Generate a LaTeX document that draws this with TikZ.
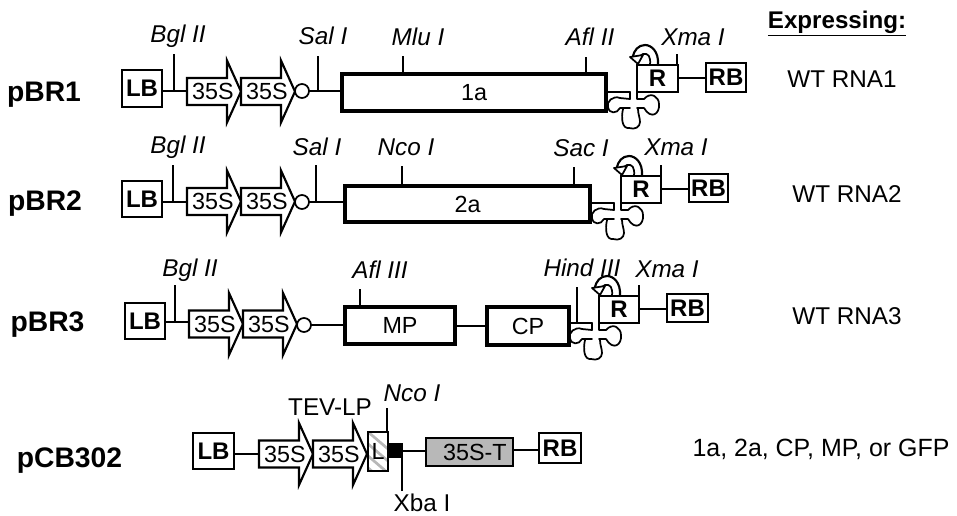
\documentclass[tikz,border=0pt]{standalone}
\usepackage{fontspec}
\setmainfont{Liberation Sans}
\tikzset{
  x=0.75pt,y=-0.75pt,
  conn/.style={line width=1.6pt,black},
  site/.style={line width=1.3pt,black},
  plain/.style={draw=black,line width=1.5pt,fill=white,inner sep=0pt,outer sep=0pt},
  gene/.style={draw=black,line width=2.6pt,fill=white,inner sep=0pt,outer sep=0pt,font=\fontsize{17.5}{17.5}\selectfont},
  boldbox/.style={plain,font=\fontsize{18}{18}\selectfont\bfseries},
  arrowbody/.style={draw=black,line width=1.6pt,fill=white,line join=miter},
  arrowtext/.style={inner sep=0pt,outer sep=0pt,font=\fontsize{17.5}{17.5}\selectfont},
  terminator/.style={circle,draw=black,line width=1.3pt,fill=white,inner sep=0pt,outer sep=0pt,minimum size=10.5pt},
  rs/.style={inner sep=0pt,font=\fontsize{18.2}{18.2}\selectfont\itshape},
  rsup/.style={inner sep=0pt,font=\fontsize{18.2}{18.2}\selectfont},
  plname/.style={inner sep=0pt,font=\fontsize{21.2}{21.2}\selectfont\bfseries},
  expr/.style={inner sep=0pt,font=\fontsize{18.2}{18.2}\selectfont},
  ribo/.style={line width=1.3pt,black,line join=round,line cap=round},
}
\newcommand{\gbox}[7]{%
  \pgfmathsetmacro{\bw}{(#5-#3)*0.75}%
  \pgfmathsetmacro{\bh}{(#6-#4)*0.75}%
  \node[#1,minimum width=\bw pt,minimum height=\bh pt] (#2) at ({(#3+#5)/2},{(#4+#6)/2}) {#7};}
\newcommand{\sarrow}[3]{%
  \draw[arrowbody] (#2,#3-13.5) -- (#2+40,#3-13.5) -- (#2+40,#3-31) -- (#2+54,#3) -- (#2+40,#3+31) -- (#2+40,#3+13.5) -- (#2,#3+13.5) -- cycle;
  \node[arrowtext,minimum width=40.5pt] (#1) at (#2+26,#3) {35S};}
\newcommand{\ribozyme}[3]{% #1 name of R box, #2,#3 = bottom-left of R box
  \begin{scope}[shift={(#2,#3)}]
    \draw[ribo] (-7,0) -- (-7,7) -- (-17,6) .. controls (-24,3) and (-31,10) .. (-29,15)
       .. controls (-28,22) and (-20,22) .. (-17,16) -- (-7,16);
    \draw[ribo] (-14,17) .. controls (-16,26) and (-15,37) .. (-8,36)
       .. controls (-2,38) and (3,35) .. (3,30) .. controls (3,26) and (1,22) .. (1,17);
    \draw[ribo] (0,0) -- (0,7) -- (7,7) .. controls (14,-1) and (22,5) .. (22,12)
       .. controls (23,22) and (14,28) .. (7,16) -- (0,16);
    % self-cleaving loop above the box
    \draw[ribo,line width=1.6pt] (21,-27) .. controls (22,-41) and (14,-47) .. (8,-47)
       .. controls (1,-47) and (-3,-41) .. (-4,-36);
    \draw[ribo] (13,-27) .. controls (14,-36) and (11,-39) .. (6,-38) -- (3,-36);
    \draw[ribo,fill=white] (-7,-35) -- (1,-28) -- (6,-37) -- cycle;
  \end{scope}}
\begin{document}
\begin{tikzpicture}
\useasboundingbox (0,0) rectangle (957,515);
\fill[white] (0,0) rectangle (957,515);

% ---------- pBR1
\coordinate (s1a) at (174,54);\coordinate (s1b) at (318,56);\coordinate (s1c) at (403,56);\coordinate (s1d) at (586,57);\coordinate (s1e) at (677,54);
\gbox{boldbox}{LB1}{122}{70}{162}{107}{LB}
\sarrow{P1a}{187}{91.5}
\sarrow{P1b}{241}{91.5}
\node[terminator] (T1) at (302,91) {};
\gbox{gene}{G1}{342}{74}{606}{111}{1a}
\gbox{boldbox}{R1}{637}{65}{678}{92}{R}
\gbox{boldbox}{RB1}{706}{63}{746}{92}{RB}
\draw[conn] (LB1.east |- T1.east) -- ([xshift=19pt]LB1.east |- T1.east);
\draw[conn] (T1.east) -- (G1.west |- T1.east);
\draw[site] (s1a) -- (s1a |- T1.east);
\draw[site] (s1b) -- (s1b |- T1.east);
\draw[site] (s1c) -- (s1c |- G1.north);
\draw[site] (s1d) -- (s1d |- G1.north);
\draw[site] (s1e) -- (s1e |- R1.north);
\draw[conn] (R1.east |- 0,78) -- (RB1.west |- 0,78);
\draw[ribo] (G1.east |- R1.south) -- ([xshift=-5.25pt]R1.south west);
\ribozyme{R1}{637}{92}

% ---------- pBR2
\coordinate (s2a) at (173,165);\coordinate (s2b) at (316,165);\coordinate (s2c) at (402,166);\coordinate (s2d) at (574,167);\coordinate (s2e) at (661,165);
\gbox{boldbox}{LB2}{122}{181}{162}{217}{LB}
\sarrow{P2a}{187}{201.5}
\sarrow{P2b}{241}{201.5}
\node[terminator] (T2) at (302,202) {};
\gbox{gene}{G2}{345}{186}{590}{222}{2a}
\gbox{boldbox}{R2}{621}{176}{661}{203}{R}
\gbox{boldbox}{RB2}{689}{174}{728}{202}{RB}
\draw[conn] (LB2.east |- T2.east) -- ([xshift=19pt]LB2.east |- T2.east);
\draw[conn] (T2.east) -- (G2.west |- T2.east);
\draw[site] (s2a) -- (s2a |- T2.east);
\draw[site] (s2b) -- (s2b |- T2.east);
\draw[site] (s2c) -- (s2c |- G2.north);
\draw[site] (s2d) -- (s2d |- G2.north);
\draw[site] (s2e) -- (s2e |- R2.north);
\draw[conn] (R2.east |- 0,189) -- (RB2.west |- 0,189);
\draw[ribo] (G2.east |- R2.south) -- ([xshift=-5.25pt]R2.south west);
\ribozyme{R2}{621}{203}

% ---------- pBR3
\coordinate (s3a) at (175,285);\coordinate (s3b) at (360,289);\coordinate (s3c) at (577,287);\coordinate (s3d) at (639,285);
\gbox{boldbox}{LB3}{125}{303}{165}{339}{LB}
\sarrow{P3a}{189}{324}
\sarrow{P3b}{243}{324}
\node[terminator] (T3) at (304,325) {};
\gbox{gene}{G3}{345}{307}{455}{344}{MP}
\gbox{gene}{G4}{487}{307}{569}{345}{CP}
\gbox{boldbox}{R3}{599}{296}{639}{323}{R}
\gbox{boldbox}{RB3}{667}{294}{708}{322}{RB}
\draw[conn] (LB3.east |- 0,322) -- ([xshift=18pt]LB3.east |- 0,322);
\draw[conn] (T3.east) -- (G3.west |- T3.east);
\draw[conn] (G3.east |- G4.west) -- (G4.west);
\draw[site] (s3a) -- (s3a |- 0,322);
\draw[site] (s3b) -- (s3b |- G3.north);
\draw[site] (s3c) -- (s3c |- R3.south);
\draw[site] (s3d) -- (s3d |- R3.north);
\draw[conn] (R3.east |- 0,309) -- (RB3.west |- 0,309);
\draw[ribo] (G4.east |- R3.south) -- ([xshift=-5.25pt]R3.south west);
\ribozyme{R3}{599}{323}

% ---------- pCB302
\coordinate (s4a) at (387,408);\coordinate (s4b) at (402,491);
\gbox{boldbox}{LB4}{193}{433}{234}{469}{LB}
\sarrow{P4a}{259}{454}
\sarrow{P4b}{313}{454}
\gbox{plain}{L4}{368}{432}{388}{471}{}
\begin{scope}
  \clip (L4.south west) rectangle (L4.north east);
  \foreach \k in {0,12,...,60} \draw[line width=2pt,black!28] (360,425+\k) -- (395,455+\k);
\end{scope}
\draw[line width=1.5pt] (L4.south west) rectangle (L4.north east);
\node[inner sep=0pt,font=\fontsize{17.5}{17.5}\selectfont] (Ltext) at (L4.center) {L};
\gbox{plain,fill=black}{B4}{388}{444}{402}{457}{}
\gbox{plain,fill=black!28,font=\fontsize{17.5}{17.5}\selectfont}{T4}{426}{438}{513}{466}{\hspace*{8pt}35S-T}
\gbox{boldbox}{RB4}{539}{433}{581}{463}{RB}
\draw[conn] (LB4.east |- P4a.west) -- (P4a.west);
\draw[conn] (B4.east |- 0,451) -- (T4.west |- 0,451);
\draw[conn] (T4.east |- 0,450) -- (RB4.west |- 0,450);
\draw[site] (s4a) -- (s4a |- L4.north);
\draw[site] (s4b) -- (s4b |- B4.south);

% ---------- site labels
\node[rs] (l1a) at (178,36) {Bgl II};
\node[rs] (l1b) at (323,36) {Sal I};
\node[rs] (l1c) at (418,37) {Mlu I};
\node[rs] (l1d) at (590,37) {Afl II};
\node[rs] (l1e) at (693,37) {Xma I};
\node[rs] (l2a) at (178,147) {Bgl II};
\node[rs] (l2b) at (317,147) {Sal I};
\node[rs] (l2c) at (406,147) {Nco I};
\node[rs] (l2d) at (581,148) {Sac I};
\node[rs] (l2e) at (676,147) {Xma I};
\node[rs] (l3a) at (190,270) {Bgl II};
\node[rs] (l3b) at (380,270) {Afl III};
\node[rs] (l3c) at (582,268) {Hind III};
\node[rs] (l3d) at (667,269) {Xma I};
\node[rs] (l4a) at (412,393) {Nco I};
\node[rsup] (l4b) at (330,407) {TEV-LP};
\node[rsup] (l4c) at (422,503) {Xba I};

% ---------- plasmid names
\node[plname] (n1) at (44,95) {pBR1};
\node[plname] (n2) at (45,203.5) {pBR2};
\node[plname] (n3) at (47.5,325) {pBR3};
\node[plname] (n4) at (69.5,461) {pCB302};

% ---------- right column
\node[anchor=base,inner sep=0pt,font=\fontsize{18.1}{18.1}\selectfont\bfseries] (hdr) at (837,28) {\underline{Expressing:}};
\node[expr] (e1) at (842,79) {WT RNA1};
\node[expr] (e2) at (847,194) {WT RNA2};
\node[expr] (e3) at (847,316) {WT RNA3};
\node[inner sep=0pt,font=\fontsize{18.7}{18.7}\selectfont] (e4) at (821,449) {1a, 2a, CP, MP, or GFP};
\end{tikzpicture}
\end{document}
